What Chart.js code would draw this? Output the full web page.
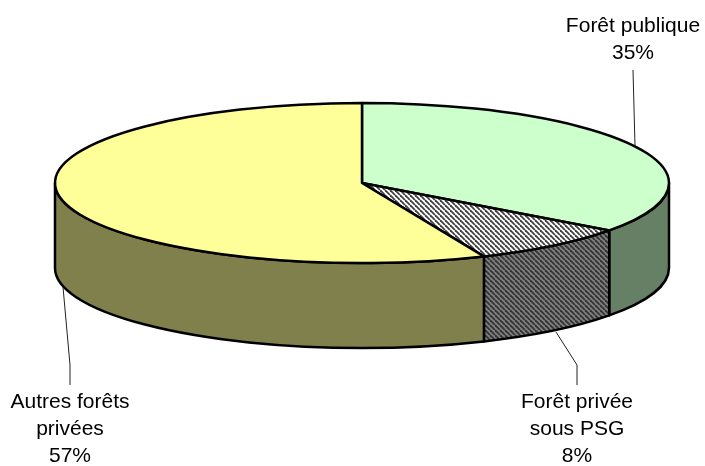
<!DOCTYPE html>
<html>
<head>
<meta charset="utf-8">
<style>
  html, body { margin: 0; padding: 0; background: #fff; }
  canvas { display: block; }
</style>
<script src="https://cdn.jsdelivr.net/npm/chart.js"></script>
</head>
<body>
<canvas id="chart" width="705" height="466"></canvas>
<script>
const categories = ['Forêt publique', 'Forêt privée sous PSG', 'Autres forêts privées'];
const values = [35.1, 8.4, 56.5];
const labelLines = [['Forêt publique'], ['Forêt privée', 'sous PSG'], ['Autres forêts', 'privées']];

// flattened pie geometry
const CX = 362, CY = 183, RX = 307, RY = 80, DEPTH = 85;
const topColors = ['#ccffcc', hatch('#ffffff', '#404040'), '#ffff99'];
const wallColors = ['#668066', hatch('#808080', '#333333'), '#80804d'];
const labelPos = [
  { x: 633, y: 26, leader: [[635, 146], [633, 70]] },
  { x: 577, y: 402, leader: [[556, 332], [577, 365], [577, 385]] },
  { x: 70, y: 402, leader: [[63, 287], [70, 365], [70, 385]] }
];

function hatch(bg, fg) {
  const c = document.createElement('canvas');
  c.width = c.height = 5;
  const g = c.getContext('2d');
  g.fillStyle = bg;
  g.fillRect(0, 0, 5, 5);
  g.strokeStyle = fg;
  g.lineWidth = 1.8;
  [-5, 0, 5].forEach(o => {
    g.beginPath();
    g.moveTo(o, 0);
    g.lineTo(o + 5, 5);
    g.stroke();
  });
  return g.createPattern(c, 'repeat');
}

const pie3d = {
  id: 'pie3d',
  beforeDatasetsDraw(chart) {
    const ctx = chart.ctx;
    const arcs = chart.getDatasetMeta(0).data;
    ctx.save();
    ctx.lineWidth = 2.5;
    ctx.strokeStyle = '#000';
    ctx.lineJoin = 'round';

    // side walls, only the front half of the rim shows
    arcs.forEach((arc, i) => {
      const a = Math.max(arc.startAngle, 0);
      const b = Math.min(arc.endAngle, Math.PI);
      if (b <= a) return;
      ctx.beginPath();
      ctx.ellipse(CX, CY, RX, RY, 0, a, b);
      ctx.ellipse(CX, CY + DEPTH, RX, RY, 0, b, a, true);
      ctx.closePath();
      ctx.fillStyle = wallColors[i];
      ctx.fill();
      ctx.stroke();
    });

    // top face
    arcs.forEach((arc, i) => {
      ctx.beginPath();
      ctx.moveTo(CX, CY);
      ctx.ellipse(CX, CY, RX, RY, 0, arc.startAngle, arc.endAngle);
      ctx.closePath();
      ctx.fillStyle = topColors[i];
      ctx.fill();
      ctx.stroke();
    });

    // labels and leader lines
    ctx.lineWidth = 1;
    ctx.strokeStyle = '#222';
    ctx.fillStyle = '#000';
    ctx.font = '21px "Liberation Sans", Arial, sans-serif';
    ctx.textAlign = 'center';
    ctx.textBaseline = 'middle';
    labelPos.forEach((p, i) => {
      ctx.beginPath();
      p.leader.forEach((pt, k) => k ? ctx.lineTo(pt[0], pt[1]) : ctx.moveTo(pt[0], pt[1]));
      ctx.stroke();
      const lines = labelLines[i].concat(Math.round(values[i]) + '%');
      lines.forEach((t, k) => ctx.fillText(t, p.x, p.y + k * 27));
    });
    ctx.restore();
    return false;
  }
};

new Chart(document.getElementById('chart'), {
  type: 'pie',
  data: {
    labels: categories,
    datasets: [{ data: values, backgroundColor: topColors }]
  },
  options: {
    responsive: false,
    animation: false,
    plugins: { legend: { display: false }, tooltip: { enabled: false } }
  },
  plugins: [pie3d]
});
</script>
</body>
</html>
